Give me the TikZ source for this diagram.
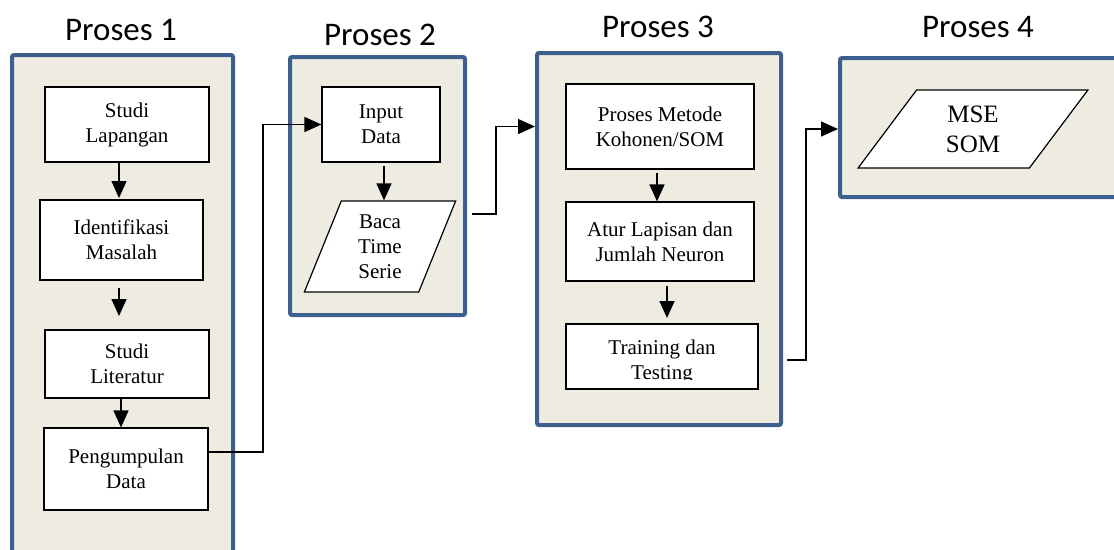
\documentclass[tikz,border=0pt]{standalone}
\usepackage{fontspec}
\setmainfont{Liberation Serif}
\newfontfamily\titlefont{Carlito}
\usetikzlibrary{arrows.meta,shapes.geometric}
\definecolor{panelblue}{HTML}{3D5F8E}
\definecolor{panelfill}{HTML}{EEECE1}
\tikzset{
	panel/.style={draw=panelblue, line width=4pt, fill=panelfill, rounded corners=2pt},
	stepbox/.style={draw=black, line width=1.2pt, fill=white, align=center,
		inner sep=0pt, font=\fontsize{21}{25}\selectfont},
	databox/.style={stepbox, trapezium, trapezium stretches=true},
	arr/.style={line width=1.5pt, -{Triangle[length=17pt,width=15pt]}},
	title/.style={font=\titlefont\fontsize{33}{36}\selectfont}
}
\begin{document}
\begin{tikzpicture}[x=1pt, y=-1pt]
	\useasboundingbox (0,0) rectangle (1114,549);
	% Panel Proses
	\node (p1) [panel, minimum width=221pt, minimum height=505pt] at (122.5,307.5) {};
	\node (p2) [panel, minimum width=175pt, minimum height=258pt] at (377.5,186) {};
	\node (p3) [panel, minimum width=244pt, minimum height=372pt] at (659,239) {};
	\node (p4) [panel, minimum width=285pt, minimum height=139pt] at (982.5,127.5) {};
	% Judul
	\node (t1) [title] at (121,30) {Proses 1};
	\node (t2) [title] at (380,35) {Proses 2};
	\node (t3) [title] at (658,27) {Proses 3};
	\node (t4) [title] at (978,27) {Proses 4};
	% Proses 1
	\node (lap) [stepbox, minimum width=164pt, minimum height=75pt] at (127,124.5) {Studi\\Lapangan};
	\node (ide) [stepbox, minimum width=163pt, minimum height=80pt] at (121.5,240) {Identifikasi\\Masalah};
	\node (lit) [stepbox, minimum width=164pt, minimum height=68pt] at (127,364) {Studi\\Literatur};
	\node (pen) [stepbox, minimum width=164pt, minimum height=82pt] at (126,469) {Pengumpulan\\Data};
	% Proses 2
	\node (inp) [stepbox, minimum width=118pt, minimum height=75pt] at (381,124.5) {Input\\Data};
	\node (baca) [databox, trapezium left angle=72, trapezium right angle=108,
		minimum width=152pt, minimum height=91pt] at (380,246.5) {Baca\\Time\\Serie};
	% Proses 3
	\node (koh) [stepbox, minimum width=188pt, minimum height=85pt] at (660,126.5) {Proses Metode\\Kohonen/SOM};
	\node (atur) [stepbox, minimum width=188pt, minimum height=79pt] at (660,241.5) {Atur Lapisan dan\\Jumlah Neuron};
	\node (train) [stepbox, minimum width=192pt, minimum height=65pt] at (662,356.5) {};
	\begin{scope}
		% teks terpotong seperti aslinya
		\clip (train.north west) rectangle ([yshift=10pt]train.south east);
		\node (traintext) [stepbox, draw=none, fill=none, anchor=north] at (662,339) {Training dan\\Testing};
	\end{scope}
	% Proses 4
	\node (mse) [databox, trapezium left angle=59, trapezium right angle=121,
		minimum width=230pt, minimum height=78pt, font=\fontsize{25}{30}\selectfont] at (973,129) {MSE\\SOM};
	% Panah
	\draw[arr] (lap.south -| 119,0) -- (119,198);
	\draw[arr] (ide.south -| 119,0) ++(0,7) -- (119,316);
	\draw[arr] (lit.south -| 121,0) -- (pen.north -| 121,0);
	\draw[arr] (inp.south -| 384,0) ++(0,3) -- (baca.north -| 384,0);
	\draw[arr] (koh.south -| 657,0) ++(0,3) -- (atur.north -| 657,0);
	\draw[arr] (atur.south -| 667,0) ++(0,4) -- (667,318);
	% Antar proses
	\draw[arr] ([yshift=17pt]pen.east) -- (263,452) |- (inp.west);
	\draw[arr] (472,214) -- (496,214) |- (koh -| p3.west);
	\draw[arr] (787,360) -- (806,360) |- (mse -| p4.west);
\end{tikzpicture}
\end{document}
